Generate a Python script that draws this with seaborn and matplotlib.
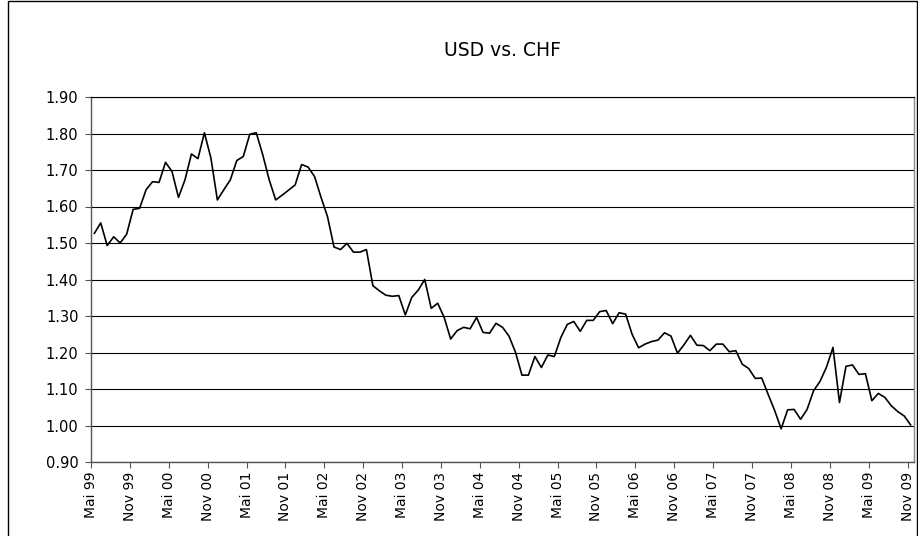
import numpy as np
import pandas as pd
import matplotlib
matplotlib.use("Agg")
import matplotlib.pyplot as plt
import seaborn as sns
from matplotlib.patches import Rectangle

# ---------------- data ----------------
title = "USD vs. CHF"
tick_labels = ["Mai 99", "Nov 99", "Mai 00", "Nov 00", "Mai 01", "Nov 01",
               "Mai 02", "Nov 02", "Mai 03", "Nov 03", "Mai 04", "Nov 04",
               "Mai 05", "Nov 05", "Mai 06", "Nov 06", "Mai 07", "Nov 07",
               "Mai 08", "Nov 08", "Mai 09", "Nov 09"]
# monthly USD/CHF rate, May 1999 .. Nov 2009
usd_chf = [
    1.526, 1.555, 1.493, 1.517, 1.500, 1.524, 1.592, 1.595, 1.646, 1.668,
    1.666, 1.721, 1.696, 1.625, 1.673, 1.744, 1.731, 1.802, 1.733, 1.618,
    1.646, 1.673, 1.726, 1.737, 1.798, 1.802, 1.742, 1.673, 1.618, 1.631,
    1.645, 1.659, 1.715, 1.708, 1.682, 1.625, 1.572, 1.489, 1.482, 1.499,
    1.475, 1.475, 1.482, 1.383, 1.369, 1.357, 1.354, 1.356, 1.303, 1.351,
    1.371, 1.400, 1.321, 1.335, 1.296, 1.237, 1.260, 1.269, 1.265, 1.296,
    1.255, 1.253, 1.280, 1.269, 1.245, 1.201, 1.138, 1.138, 1.189, 1.159,
    1.193, 1.189, 1.241, 1.277, 1.285, 1.258, 1.288, 1.288, 1.312, 1.315,
    1.279, 1.309, 1.305, 1.250, 1.213, 1.223, 1.230, 1.234, 1.254, 1.245,
    1.198, 1.221, 1.247, 1.220, 1.219, 1.205, 1.223, 1.223, 1.202, 1.205,
    1.168, 1.156, 1.129, 1.130, 1.085, 1.041, 0.991, 1.043, 1.044, 1.017,
    1.044, 1.095, 1.121, 1.160, 1.214, 1.063, 1.162, 1.166, 1.140, 1.142,
    1.068, 1.088, 1.077, 1.054, 1.038, 1.026, 1.001]
y_ticks = [0.90, 1.00, 1.10, 1.20, 1.30, 1.40, 1.50, 1.60, 1.70, 1.80, 1.90]

# ---------------- figure ----------------
sns.set_style("white")
plt.rcParams["font.family"] = ["DejaVu Sans"]
plt.rcParams["text.color"] = "black"

fig = plt.figure(figsize=(9.18, 5.36), dpi=100)
W, H = 918, 536
ax = fig.add_axes([91 / W, 1 - 462 / H, (914 - 91) / W, (462 - 97) / H])

# each month is a category centred between tick marks
df = pd.DataFrame({"pos": np.arange(len(usd_chf)) + 0.5, "rate": usd_chf})
sns.lineplot(data=df, x="pos", y="rate", ax=ax, color="black",
             linewidth=1.2, legend=False)

ax.set_xlim(0, len(usd_chf))
ax.set_ylim(0.90, 1.90)
ax.set_yticks(y_ticks)
ax.set_yticklabels([f"{v:.2f}" for v in y_ticks])
ax.set_xticks(np.arange(len(tick_labels)) * 6)
ax.set_xticklabels(tick_labels, rotation=90, va="top", ha="center")
ax.set_xlabel("")
ax.set_ylabel("")

ax.yaxis.grid(True, color="black", linewidth=0.8)
ax.xaxis.grid(False)
ax.set_axisbelow(True)

for side in ["left", "bottom"]:
    ax.spines[side].set_color("#555555")
    ax.spines[side].set_linewidth(1.0)
ax.spines["top"].set_color("black")
ax.spines["top"].set_linewidth(0.8)
ax.spines["right"].set_color("#888888")
ax.spines["right"].set_linewidth(1.0)

ax.tick_params(axis="y", direction="out", length=4, width=0.8, color="#555555",
               pad=5, labelsize=10.5, labelcolor="black", left=True)
ax.tick_params(axis="x", direction="out", length=4, width=0.8, color="#555555",
               pad=3, labelsize=10, labelcolor="black", bottom=True)

fig.text(502 / W, 1 - 50 / H, title, ha="center", va="center",
         fontsize=13.5, color="black")

# chart area border
fig.patches.append(Rectangle((8 / W, -0.01), (917 - 8) / W, 1.0 + 0.01 - 1 / H,
                             transform=fig.transFigure, fill=False,
                             edgecolor="black", linewidth=1.0))

fig.savefig("out.png", dpi=100)
